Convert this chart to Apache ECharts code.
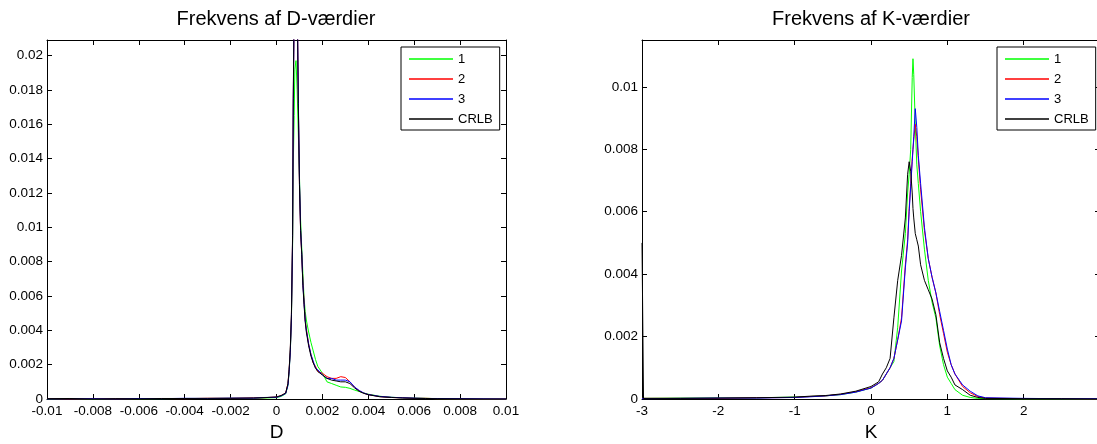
<!DOCTYPE html>
<html>
<head>
<meta charset="utf-8">
<script src="https://cdn.jsdelivr.net/npm/echarts@6/dist/echarts.min.js"></script>
<style>html,body{margin:0;padding:0;background:#fff}#c{width:1097px;height:444px}</style>
</head>
<body>
<div id="c"></div>
<script>
// ---- Data: D histogram (left panel) ----
const D_x = [-0.01, -0.009, -0.008, -0.007, -0.006, -0.005, -0.004, -0.003, -0.002, -0.001, -0.0005, 0, 0.0002, 0.0004, 0.0005, 0.00055, 0.0006, 0.00065, 0.0007, 0.00073, 0.00077, 0.0008, 0.00085, 0.0009, 0.00095, 0.001, 0.00105, 0.0011, 0.00115, 0.0012, 0.00125, 0.0013, 0.0014, 0.0015, 0.0016, 0.0017, 0.0018, 0.002, 0.0022, 0.0024, 0.0026, 0.0028, 0.003, 0.0032, 0.0034, 0.0036, 0.0038, 0.004, 0.0045, 0.005, 0.0055, 0.006, 0.0065, 0.007, 0.008, 0.009, 0.01];
const D_1 = [0, 0.00002, 0, 0.00002, 0.00001, 0.00002, 0.00003, 0.00003, 0.00004, 0.00004, 0.00006, 0.00008, 0.00015, 0.0003, 0.0008, 0.0016, 0.0027, 0.0046, 0.0088, 0.0135, 0.0165, 0.0192, 0.0197, 0.018, 0.0155, 0.013, 0.0104, 0.0088, 0.0073, 0.0059, 0.0051, 0.0046, 0.0039, 0.0033, 0.0028, 0.0023, 0.0019, 0.0015, 0.001, 0.0009, 0.0008, 0.0007, 0.00068, 0.00062, 0.00052, 0.00044, 0.00035, 0.00028, 0.00016, 0.0001, 0.00007, 0.00005, 0.00004, 0.00002, 0.00001, 0, 0];
const D_2 = [0.00002, 0, 0.00002, 0.00001, 0.00002, 0.00003, 0.00002, 0.00004, 0.00004, 0.00006, 0.00008, 0.00011, 0.0002, 0.00034, 0.0009, 0.0017, 0.0028, 0.0048, 0.0093, 0.0172, 0.023, 0.0252, 0.026, 0.0236, 0.0174, 0.0126, 0.0098, 0.0084, 0.0068, 0.0057, 0.0046, 0.0041, 0.0032, 0.0026, 0.0021, 0.0019, 0.0016, 0.0015, 0.0013, 0.0012, 0.0012, 0.0013, 0.00125, 0.001, 0.0007, 0.00048, 0.00034, 0.00026, 0.00014, 0.00009, 0.00007, 0.00004, 0.00004, 0.00002, 0.00001, 0, 0];
const D_3 = [0, 0.00001, 0.00002, 0, 0.00003, 0.00002, 0.00004, 0.00003, 0.00005, 0.00005, 0.00009, 0.0001, 0.00018, 0.00032, 0.0008, 0.0016, 0.0027, 0.0047, 0.0092, 0.017, 0.0228, 0.025, 0.0258, 0.0235, 0.0176, 0.0128, 0.0099, 0.0085, 0.0067, 0.0056, 0.0046, 0.004, 0.0032, 0.0026, 0.0022, 0.0018, 0.0017, 0.0014, 0.0012, 0.0012, 0.0011, 0.0011, 0.0011, 0.001, 0.0007, 0.0005, 0.00035, 0.00026, 0.00015, 0.0001, 0.00007, 0.00005, 0.00003, 0.00003, 0.00002, 0.00001, 0];
const D_CRLB = [0.00002, 0.00003, 0, 0.00002, 0.00001, 0.00003, 0.00003, 0.00004, 0.00004, 0.00006, 0.00008, 0.00012, 0.0002, 0.00035, 0.0009, 0.0017, 0.0029, 0.0049, 0.0095, 0.0175, 0.0232, 0.0255, 0.0262, 0.0238, 0.0172, 0.0125, 0.0098, 0.0084, 0.0066, 0.0055, 0.0045, 0.0039, 0.0031, 0.0025, 0.0021, 0.0018, 0.0016, 0.0014, 0.0012, 0.0011, 0.00105, 0.001, 0.001, 0.0009, 0.00065, 0.00045, 0.00033, 0.00025, 0.00013, 0.00009, 0.00006, 0.00004, 0.00003, 0.00002, 0.00001, 0, 0];

// ---- Data: K histogram (right panel) ----
const K_x = [-3, -2.98, -2.5, -2, -1.5, -1, -0.8, -0.6, -0.4, -0.2, 0, 0.1, 0.15, 0.2, 0.25, 0.3, 0.35, 0.4, 0.45, 0.48, 0.5, 0.52, 0.54, 0.55, 0.56, 0.58, 0.6, 0.62, 0.65, 0.7, 0.75, 0.8, 0.85, 0.9, 0.95, 1.0, 1.05, 1.1, 1.2, 1.3, 1.4, 1.5, 2, 2.5, 3];
const K_1 = [0.00002, 0.00002, 0.00003, 0.00003, 0.00004, 0.00006, 0.00008, 0.0001, 0.00014, 0.00022, 0.00035, 0.0005, 0.0006, 0.0008, 0.001, 0.0012, 0.0023, 0.0041, 0.0053, 0.0066, 0.0072, 0.008, 0.0103, 0.0109, 0.0104, 0.0088, 0.0075, 0.0069, 0.006, 0.0048, 0.0038, 0.0031, 0.0026, 0.0017, 0.0011, 0.0007, 0.0005, 0.0003, 0.00012, 0.00005, 0.00002, 0.00001, 0, 0, 0];
const K_2 = [0.00002, 0.00001, 0.00002, 0.00002, 0.00004, 0.00005, 0.00008, 0.0001, 0.00015, 0.00023, 0.00036, 0.0005, 0.0006, 0.0008, 0.001, 0.0013, 0.0019, 0.0026, 0.0043, 0.0051, 0.0061, 0.0069, 0.0077, 0.008, 0.0083, 0.0088, 0.0084, 0.0077, 0.0067, 0.0054, 0.0045, 0.0039, 0.0034, 0.0027, 0.0021, 0.0015, 0.0011, 0.0008, 0.0004, 0.0002, 0.00008, 0.00003, 0.00001, 0.00001, 0];
const K_3 = [0.00001, 0.00002, 0.00002, 0.00003, 0.00003, 0.00005, 0.00007, 0.0001, 0.00014, 0.00022, 0.00035, 0.0005, 0.0006, 0.0008, 0.001, 0.0013, 0.0019, 0.0025, 0.0042, 0.005, 0.006, 0.0068, 0.0076, 0.008, 0.0084, 0.0093, 0.0087, 0.0078, 0.0069, 0.0055, 0.0045, 0.0039, 0.0034, 0.0028, 0.0022, 0.0016, 0.0011, 0.0008, 0.00045, 0.00025, 0.0001, 0.00004, 0.00002, 0.00001, 0.00001];
const K_CRLB = [0.005, 0.00002, 0.00002, 0.00003, 0.00004, 0.00006, 0.00009, 0.00011, 0.00016, 0.00025, 0.0004, 0.00055, 0.0008, 0.001, 0.0013, 0.0026, 0.0038, 0.0046, 0.0058, 0.0072, 0.0076, 0.0073, 0.0066, 0.0061, 0.0058, 0.0053, 0.0051, 0.0049, 0.0043, 0.0038, 0.0035, 0.0032, 0.0027, 0.0018, 0.0013, 0.0009, 0.0007, 0.00045, 0.0003, 0.00012, 0.00005, 0.00002, 0.00001, 0.00001, 0];

const SERIES_NAMES = ['1', '2', '3', 'CRLB'];
const SERIES_COLORS = ['#00ff00', '#ff0000', '#0000ff', '#000000'];
const TITLES = ['Frekvens af D-værdier', 'Frekvens af K-værdier'];
const AXIS_NAMES = ['D', 'K'];

const FONT = '"Liberation Sans", Arial, Helvetica, sans-serif';
const pairs = (xs, ys) => xs.map((x, i) => [x, ys[i]]);

function xAxisCfg(gi, min, max, interval, pos, name) {
  return {
    gridIndex: gi, type: 'value', min: min, max: max, interval: interval, position: pos,
    name: name || '', nameLocation: 'middle', nameGap: 21,
    nameTextStyle: { fontSize: 19, color: '#000', fontFamily: FONT },
    axisLine: { show: true, onZero: false, lineStyle: { color: '#000', width: 1 } },
    axisTick: { show: true, inside: true, length: 5, lineStyle: { color: '#000', width: 1 } },
    axisLabel: { show: pos === 'bottom', color: '#000', fontSize: 13.5, margin: 5, fontFamily: FONT, showMaxLabel: gi === 0 },
    splitLine: { show: false }
  };
}
function yAxisCfg(gi, max, interval, pos) {
  return {
    gridIndex: gi, type: 'value', min: 0, max: max, interval: interval, position: pos,
    axisLine: { show: true, onZero: false, lineStyle: { color: '#000', width: 1 } },
    axisTick: { show: true, inside: true, length: 5, lineStyle: { color: '#000', width: 1 } },
    axisLabel: { show: pos === 'left', color: '#000', fontSize: 13.5, margin: 4, fontFamily: FONT, showMaxLabel: false },
    splitLine: { show: false }
  };
}

const dSets = [D_1, D_2, D_3, D_CRLB];
const kSets = [K_1, K_2, K_3, K_CRLB];
const series = [];
dSets.forEach((ys, i) => series.push({
  name: SERIES_NAMES[i], type: 'line', xAxisIndex: 0, yAxisIndex: 0,
  data: pairs(D_x, ys), symbol: 'none', showSymbol: false, clip: true,
  lineStyle: { color: SERIES_COLORS[i], width: 1 }, itemStyle: { color: SERIES_COLORS[i] }
}));
kSets.forEach((ys, i) => series.push({
  name: SERIES_NAMES[i], type: 'line', xAxisIndex: 2, yAxisIndex: 2,
  data: pairs(K_x, ys), symbol: 'none', showSymbol: false, clip: true,
  lineStyle: { color: SERIES_COLORS[i], width: 1 }, itemStyle: { color: SERIES_COLORS[i] }
}));

const LEGEND_LINE = 'path://M0,0 L44,0 L44,1.5 L0,1.5 Z';
function legendCfg(left) {
  return {
    data: SERIES_NAMES, icon: LEGEND_LINE, symbolKeepAspect: true,
    orient: 'vertical', left: left, top: 47,
    padding: [5, 7, 4, 8], itemWidth: 44, itemHeight: 14, itemGap: 6,
    backgroundColor: '#fff', borderColor: '#000', borderWidth: 1, borderRadius: 0,
    textStyle: { color: '#000', fontSize: 13, fontFamily: FONT, lineHeight: 14 },
    selectedMode: false
  };
}

const chart = echarts.init(document.getElementById('c'), null, { renderer: 'canvas' });
chart.setOption({
  animation: false,
  backgroundColor: '#fff',
  title: [
    { text: TITLES[0], left: 276, top: 9, textAlign: 'center', padding: 0, textStyle: { fontSize: 20, fontWeight: 'normal', color: '#000', fontFamily: FONT } },
    { text: TITLES[1], left: 871, top: 9, textAlign: 'center', padding: 0, textStyle: { fontSize: 20, fontWeight: 'normal', color: '#000', fontFamily: FONT } }
  ],
  legend: [legendCfg(401), legendCfg(997)],
  grid: [
    { left: 47, top: 40, width: 459, height: 359, containLabel: false, outerBoundsMode: 'none' },
    { left: 642, top: 40, width: 458, height: 359, containLabel: false, outerBoundsMode: 'none' }
  ],
  xAxis: [
    xAxisCfg(0, -0.01, 0.01, 0.002, 'bottom', AXIS_NAMES[0]),
    xAxisCfg(0, -0.01, 0.01, 0.002, 'top'),
    xAxisCfg(1, -3, 3, 1, 'bottom', AXIS_NAMES[1]),
    xAxisCfg(1, -3, 3, 1, 'top')
  ],
  yAxis: [
    yAxisCfg(0, 0.0209, 0.002, 'left'),
    yAxisCfg(0, 0.0209, 0.002, 'right'),
    yAxisCfg(1, 0.0115, 0.002, 'left'),
    yAxisCfg(1, 0.0115, 0.002, 'right')
  ],
  series: series
});
</script>
</body>
</html>
